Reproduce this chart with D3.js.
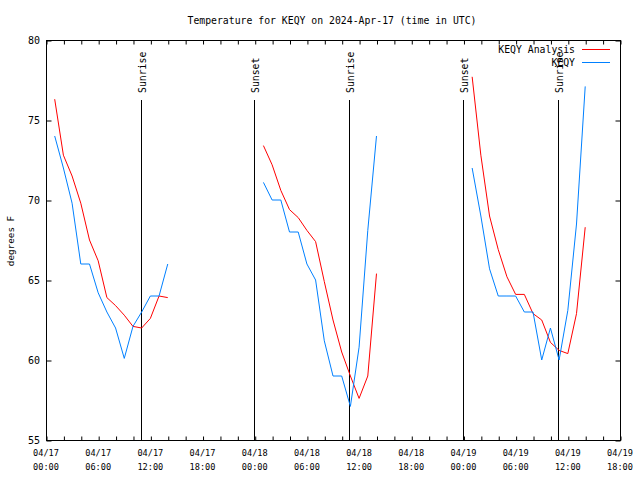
<!DOCTYPE html>
<html>
<head>
<meta charset="utf-8">
<script src="https://cdn.jsdelivr.net/npm/d3@7"></script>
<style>
  body { margin: 0; background: #fff; }
  svg { display: block; background: #fff; }
  text { font-family: "DejaVu Sans Mono", monospace; fill: #000; }
</style>
</head>
<body>
<svg width="640" height="480"></svg>
<script>
// hourly times (UTC) of the station obs and the analysis
const times = [
  '2024-04-17 01:00', '2024-04-17 02:00', '2024-04-17 03:00', '2024-04-17 04:00', '2024-04-17 05:00',
  '2024-04-17 06:00', '2024-04-17 07:00', '2024-04-17 08:00', '2024-04-17 09:00', '2024-04-17 10:00',
  '2024-04-17 11:00', '2024-04-17 12:00', '2024-04-17 13:00', '2024-04-17 14:00',
  '2024-04-18 01:00', '2024-04-18 02:00', '2024-04-18 03:00', '2024-04-18 04:00', '2024-04-18 05:00',
  '2024-04-18 06:00', '2024-04-18 07:00', '2024-04-18 08:00', '2024-04-18 09:00', '2024-04-18 10:00',
  '2024-04-18 11:00', '2024-04-18 12:00', '2024-04-18 13:00', '2024-04-18 14:00',
  '2024-04-19 01:00', '2024-04-19 02:00', '2024-04-19 03:00', '2024-04-19 04:00', '2024-04-19 05:00',
  '2024-04-19 06:00', '2024-04-19 07:00', '2024-04-19 08:00', '2024-04-19 09:00', '2024-04-19 10:00',
  '2024-04-19 11:00', '2024-04-19 12:00', '2024-04-19 13:00', '2024-04-19 14:00'
];

const analysisTemps = [
  76.3, 72.8, 71.5, 69.8, 67.5, 66.2, 63.9, 63.4, 62.8, 62.1, 62.0, 62.6, 64.0, 63.9,
  73.4, 72.2, 70.6, 69.4, 68.9, 68.1, 67.4, 64.9, 62.5, 60.5, 59.0, 57.6, 59.0, 65.4,
  77.7, 72.8, 69.0, 66.9, 65.2, 64.1, 64.1, 62.9, 62.5, 61.1, 60.6, 60.4, 62.9, 68.3
];

const obsTemps = [
  74.0, 72.0, 69.8, 66.0, 66.0, 64.2, 63.0, 62.0, 60.1, 62.1, 63.0, 64.0, 64.0, 66.0,
  71.1, 70.0, 70.0, 68.0, 68.0, 66.0, 65.0, 61.2, 59.0, 59.0, 57.1, 60.8, 68.1, 74.0,
  72.0, 69.0, 65.7, 64.0, 64.0, 64.0, 63.0, 63.0, 60.0, 62.0, 60.0, 63.1, 68.5, 77.1
];

const sunLabels = ['Sunrise', 'Sunset', 'Sunrise', 'Sunset', 'Sunrise'];
const sunTimes = ['2024-04-17 10:55', '2024-04-17 23:55', '2024-04-18 10:53', '2024-04-18 23:57', '2024-04-19 10:52'];

const seriesNames = ['KEQY Analysis', 'KEQY'];
const seriesColors = ['#ff0000', '#0080ff'];

const parse = d3.utcParse('%Y-%m-%d %H:%M');
const svg = d3.select('svg');
const width = +svg.attr('width');

const margin = { top: 40, right: 20, bottom: 40, left: 46 };
const plotRight = 620, plotBottom = 440;

const x = d3.scaleUtc()
  .domain([parse('2024-04-17 00:00'), parse('2024-04-19 18:00')])
  .range([margin.left, plotRight]);

const y = d3.scaleLinear()
  .domain([55, 80])
  .range([plotBottom, margin.top]);

// title
svg.append('text')
  .attr('x', 332)
  .attr('y', 24)
  .attr('text-anchor', 'middle')
  .style('font-size', '9.8px')
  .text('Temperature for KEQY on 2024-Apr-17 (time in UTC)');

// tick marks, every 2 hours, inside on bottom and top
const hourTicks = d3.utcHour.every(2);
const xBottom = svg.append('g')
  .attr('transform', `translate(0.5,${plotBottom + 0.5})`)
  .call(d3.axisBottom(x).ticks(hourTicks).tickSize(-4).tickFormat(''));
const xTop = svg.append('g')
  .attr('transform', `translate(0.5,${margin.top + 0.5})`)
  .call(d3.axisTop(x).ticks(hourTicks).tickSize(-4).tickFormat(''));

const yLeft = svg.append('g')
  .attr('transform', `translate(${margin.left + 0.5},0.5)`)
  .call(d3.axisLeft(y).tickValues(d3.range(55, 81, 5)).tickSize(-5).tickFormat(''));
const yRight = svg.append('g')
  .attr('transform', `translate(${plotRight + 0.5},0.5)`)
  .call(d3.axisRight(y).tickValues(d3.range(55, 81, 5)).tickSize(-5).tickFormat(''));

[xBottom, xTop, yLeft, yRight].forEach(g => {
  g.selectAll('.domain').remove();
  g.selectAll('line').attr('stroke', '#000');
});

// x labels every 6 hours, two lines
const fmtDay = d3.utcFormat('%m/%d');
const fmtHour = d3.utcFormat('%H:%M');
const xLabels = svg.append('g')
  .selectAll('text')
  .data(x.ticks(d3.utcHour.every(6)))
  .enter()
  .append('text')
  .attr('text-anchor', 'middle')
  .style('font-size', '8.6px');
xLabels.append('tspan').attr('x', d => x(d)).attr('y', 456).text(fmtDay);
xLabels.append('tspan').attr('x', d => x(d)).attr('y', 470).text(fmtHour);

// y labels
svg.append('g')
  .selectAll('text')
  .data(d3.range(55, 81, 5))
  .enter()
  .append('text')
  .attr('x', 40)
  .attr('y', d => y(d) + 3.6)
  .attr('text-anchor', 'end')
  .style('font-size', '10px')
  .text(d => d);

svg.append('text')
  .attr('transform', 'translate(13.5,241) rotate(-90)')
  .attr('text-anchor', 'middle')
  .style('font-size', '9.3px')
  .text('degrees F');

// sunrise / sunset markers
const sun = sunTimes.map((t, i) => ({ date: parse(t), label: sunLabels[i] }));
svg.append('g')
  .selectAll('line')
  .data(sun)
  .enter()
  .append('line')
  .attr('x1', d => Math.round(x(d.date)) + 0.5)
  .attr('x2', d => Math.round(x(d.date)) + 0.5)
  .attr('y1', 100)
  .attr('y2', plotBottom)
  .attr('stroke', '#000');

svg.append('g')
  .selectAll('text')
  .data(sun)
  .enter()
  .append('text')
  .attr('transform', d => `translate(${Math.round(x(d.date)) + 5},93) rotate(-90)`)
  .style('font-size', '9.8px')
  .text(d => d.label);

// frame
svg.append('rect')
  .attr('x', margin.left + 0.5)
  .attr('y', margin.top + 0.5)
  .attr('width', plotRight - margin.left)
  .attr('height', plotBottom - margin.top)
  .attr('fill', 'none')
  .attr('stroke', '#000');

// data lines, one run per day
const rows = times.map((t, i) => ({
  day: t.slice(0, 10),
  date: parse(t),
  analysis: analysisTemps[i],
  obs: obsTemps[i]
}));
const days = d3.groups(rows, d => d.day);

const series = [
  { name: seriesNames[0], color: seriesColors[0], value: d => d.analysis },
  { name: seriesNames[1], color: seriesColors[1], value: d => d.obs }
];

series.forEach(s => {
  const line = d3.line()
    .x(d => x(d.date))
    .y(d => y(s.value(d)));
  svg.append('g')
    .selectAll('path')
    .data(days)
    .enter()
    .append('path')
    .attr('d', d => line(d[1]))
    .attr('fill', 'none')
    .attr('stroke', s.color)
    .attr('stroke-width', 1);
});

// legend
const legend = svg.append('g')
  .selectAll('g')
  .data(series)
  .enter()
  .append('g')
  .attr('transform', (d, i) => `translate(0,${49.5 + i * 13})`);

legend.append('text')
  .attr('x', 575)
  .attr('y', 3.5)
  .attr('text-anchor', 'end')
  .style('font-size', '9.8px')
  .text(d => d.name);

legend.append('line')
  .attr('x1', 582)
  .attr('x2', 610)
  .attr('y1', 0)
  .attr('y2', 0)
  .attr('stroke', d => d.color);
</script>
</body>
</html>
